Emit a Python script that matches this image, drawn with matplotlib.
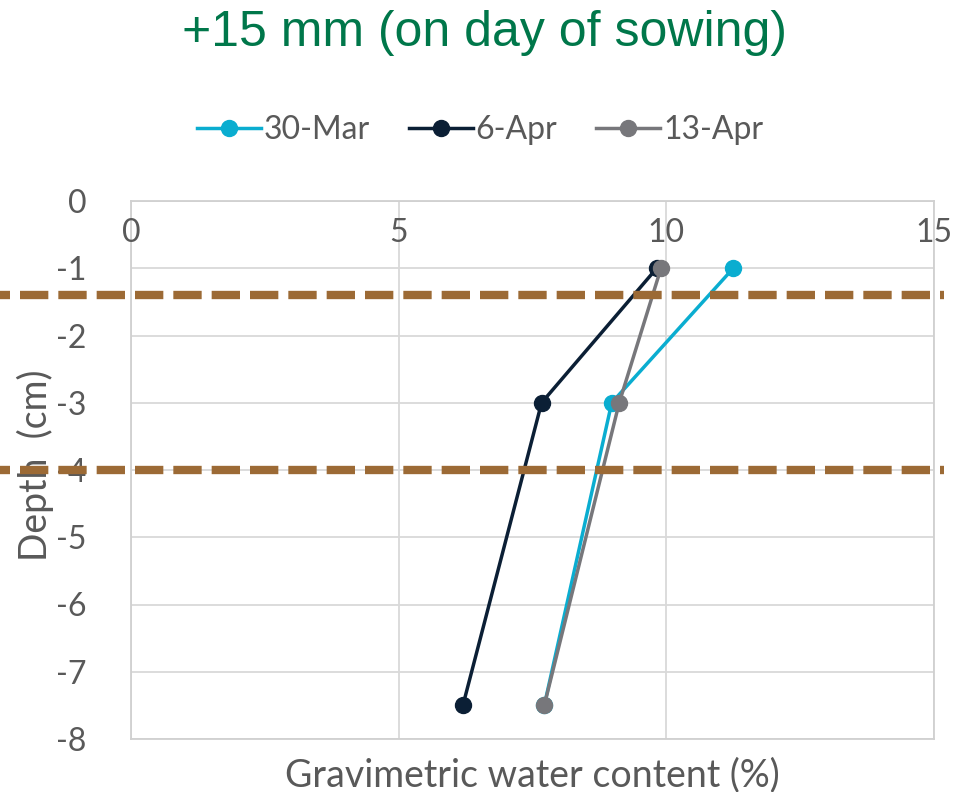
import numpy as np
import matplotlib.pyplot as plt

plt.rcParams['font.family'] = ['Lato', 'DejaVu Sans']
plt.rcParams['axes.unicode_minus'] = False

# data
depth = [-1, -3, -7.5]
mar30 = [11.25, 8.98, 7.72]
apr6 = [9.82, 7.67, 6.2]
apr13 = [9.9, 9.12, 7.72]
series_names = ['30-Mar', '6-Apr', '13-Apr']
series_colors = ['#0AADD0', '#0B1F35', '#77777B']
layer_depths = [-1.4, -4]
x_ticks = [0, 5, 10, 15]
y_ticks = [0, -1, -2, -3, -4, -5, -6, -7, -8]

txt = '#595959'
fs = 23

fig = plt.figure(figsize=(9.75, 7.92), dpi=100)
ax = fig.add_axes([131/975, 1 - 739/792, (934-131)/975, (739-201)/792])

for vals, name, col in zip([mar30, apr6, apr13], series_names, series_colors):
    ax.plot(vals, depth, color=col, lw=2.5, marker='o', ms=11.5, label=name, zorder=3)

ax.set_xlim(0, 15)
ax.set_ylim(-8, 0)
ax.set_xticks(x_ticks)
ax.set_yticks(y_ticks)
ax.grid(True, color='#D9D9D9', lw=1.3)
ax.set_axisbelow(True)
for s in ax.spines.values():
    s.set_color('#D0D0D0')
    s.set_linewidth(1.3)
ax.tick_params(length=0, colors=txt, labelsize=fs)
ax.tick_params(axis='y', pad=32)
ax.set_xticklabels([])
for xt in x_ticks:
    ax.text(xt, -0.7, str(xt), ha='center', va='bottom', fontsize=fs, color=txt)

# horizontal layer lines run across the whole figure width
for d in layer_depths:
    yf = ax.transData.transform((0, d))[1]
    yfig = fig.transFigure.inverted().transform((0, yf))[1]
    fig.add_artist(plt.Line2D([0, 944/975], [yfig, yfig], color='#9C6A35',
                              lw=6, ls=(2.2, (3.4, 1.2)), zorder=5))

ax.set_xlabel('Gravimetric water content (%)', fontsize=27, color=txt, labelpad=10)
fig.text(35/975, 1 - 465/792, 'Depth  (cm)', rotation=90, ha='center', va='center',
         fontsize=27, color=txt)

fig.text(484/975, 1 - 33/792, '+15 mm (on day of sowing)', ha='center', va='center',
         fontsize=36, color='#00774A', family='Liberation Sans')

fig.legend(loc='center', bbox_to_anchor=(480/975, 1 - 130/792), ncol=3, frameon=False,
           fontsize=fs, labelcolor=txt, handlelength=2.0, handletextpad=0.1,
           columnspacing=1.2)

fig.savefig('out.png', dpi=100)
